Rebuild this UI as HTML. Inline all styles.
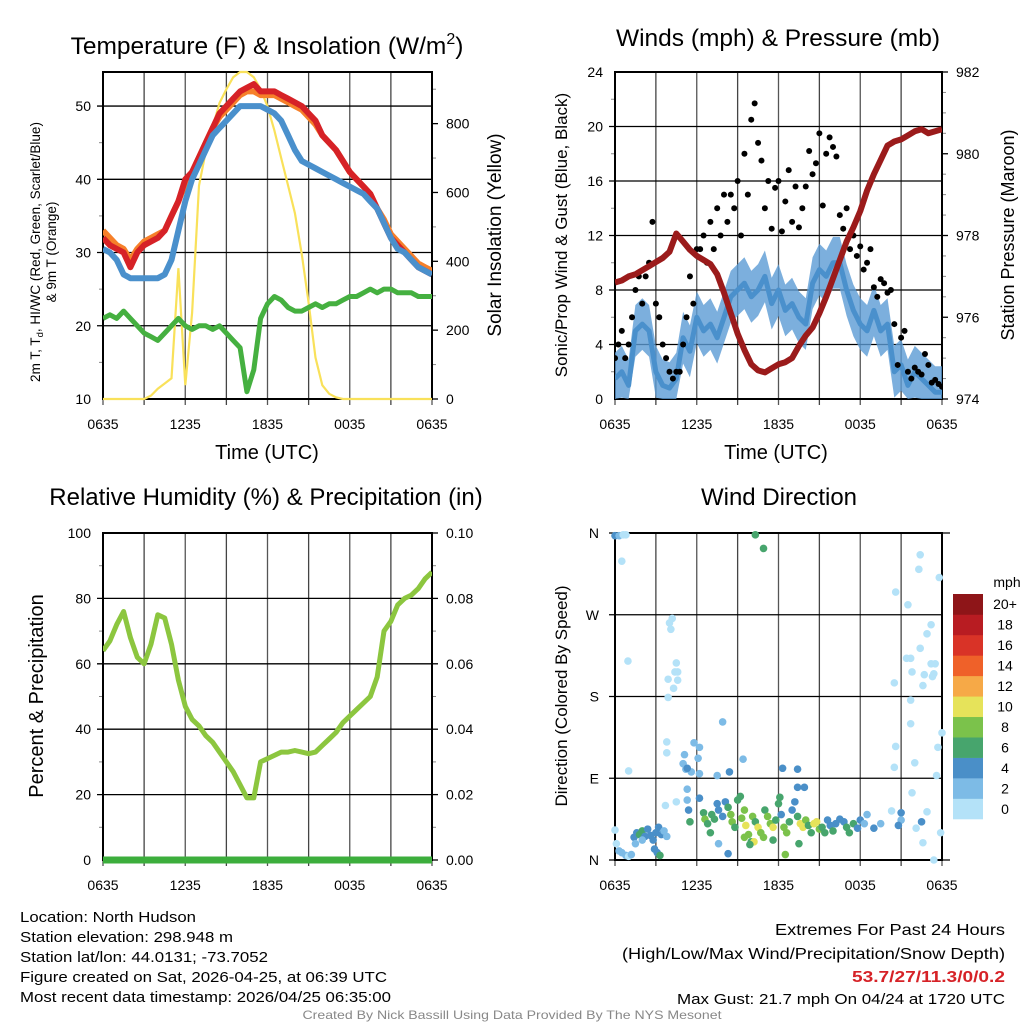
<!DOCTYPE html>
<html><head><meta charset="utf-8">
<style>
html,body{margin:0;padding:0;background:#fff;}
svg{display:block;font-family:"Liberation Sans",Arial,sans-serif;}
</style></head>
<body>
<svg id="fig" width="1024" height="1024" viewBox="0 0 1024 1024" xmlns="http://www.w3.org/2000/svg"></svg>
<script>
// ---------- DATA (half-hour samples from 0635 to 0635 next day) ----------
const timeLabels = ["0635","1235","1835","0035","0635"];
const tempRed = [32,31,30.5,30,28,30,31,31.5,32,33,35,37,40,41,43,45,47,49,50,51,52,52.5,53,52,52,52,51.5,51,50.5,50,49,48,46,45,44,42.5,41,40,39,38,36,34,32,31,30,29,28,27.5,27];
const tempOrange = [33,32,31,30.5,29,30.5,31.5,32,32.5,33,35,37,39.5,41,43,45,47,48.5,49.5,50.5,51.5,52,52,51.5,51.5,51.5,51,50.5,50,49.5,48.5,47.5,46,45,44,42.5,41,40,39,38,36,34.5,32.5,31.5,30.5,29.5,28.5,28,27.5];
const tempBlue = [30.5,30,29,27,26.5,26.5,26.5,26.5,26.5,27,29,33,37,40,42,44,46,47,48,49,50,50,50,50,49.5,49,48,46,44,42.5,42,41.5,41,40.5,40,39.5,39,38.5,38,37,36,34,32,30.5,30,29,28,27.5,27];
const dewGreen = [21,21.5,21,22,21,20,19,18.5,18,19,20,21,20,19.5,20,20,19.5,20,19,18,17,11,14,21,23,24,23.5,22.5,22,22,22.5,23,22.5,23,23,23.5,24,24,24.5,25,24.5,25,25,24.5,24.5,24.5,24,24,24];
const solar = [0,0,0,0,0,0,0,10,30,45,60,380,40,250,620,720,790,860,900,935,950,950,935,900,850,780,700,620,540,420,280,120,40,15,5,0,0,0,0,0,0,0,0,0,0,0,0,0,0];
const windSonic = [1.5,2,1,5,5.5,5,2,1,0.8,1.5,4.5,3.5,6,5,5.5,4.5,6,7.5,8,8.5,7.5,8,9,7,8,6.5,7,6,5.5,8.5,9.5,9,10,10,8,6.5,5.5,5,6.5,5,5.5,2,2.5,1,2,1.5,1,0.5,0.5];
const gusts = [3,4,5,3,4,6,8,9,7, 9,10,13,7,6,4,3,2, 1.5,2,2,4,6,9,7,11, 11,12,10,13,11,14,12,15, 13,15,14,16,12,18,15,20.5, 21.7,18.8,17.5,14,16,12.5,15.5,16, 12.3,14.5,16.8,13,15.6,12.6,14,15.6, 18.2,16.5,17.3,19.5,14.2,18,19.2,18.5, 17.8,13.5,12.5,14,11,12,10.5,11.2, 9.5,10,11,8.2,7.5,8.8,8.5,7.8, 8,5.5,2.5,4.5,5,2,1.5,2.3, 2,1.8,3.3,2.5,1.2,1.4,1.1,0.9];
const pressure = [976.85,976.9,977.0,977.05,977.15,977.25,977.35,977.45,977.6,978.05,977.85,977.65,977.5,977.4,977.3,977.05,976.6,976.1,975.6,975.2,974.85,974.7,974.65,974.75,974.85,974.9,975.0,975.3,975.55,975.75,976.1,976.5,976.95,977.4,977.85,978.2,978.6,979.1,979.5,979.85,980.2,980.3,980.35,980.45,980.55,980.6,980.5,980.55,980.6];
const rh = [64,67,72,76,68,62,60,66,75,74,66,55,47,43,41,38,36,33,30,27,23,19,19,30,31,32,33,33,33.5,33,32.5,33,35,37,39,42,44,46,48,50,56,70,73,78,80,81,83,86,88];
const precip = [0,0,0,0,0,0,0,0,0,0,0,0,0,0,0,0,0,0,0,0,0,0,0,0,0,0,0,0,0,0,0,0,0,0,0,0,0,0,0,0,0,0,0,0,0,0,0,0,0];
// wind direction scatter: hours since 0635, direction (deg), speed (mph)
const dirHour = [0,0.3,0.6,0.8,0.5,0.95,1.0,0.0, 0.1,0.3,0.5,0.8,1.0,1.2,1.4,1.6,1.8,2.0,2.2,2.4,2.6,2.8,3.0,3.2,3.4,3.6,3.8,2.9,3.1,3.3,2.0,1.5,
 4.2,4.0,4.1,4.5,4.4,4.6,3.9,4.6,4.3,3.9,3.8,3.8,3.7,4.5,
 5.8,6.2,5.1,6.1,5.0,5.2,5.6,5.3,6.2,5.3,5.3,5.4,6.2,5.5,
 6.5,6.6,6.8,7.0,7.1,7.3,7.5,7.6,7.9,8.1,8.3,8.5,8.6,8.8,9.0,9.2,9.3,9.5,9.6,9.8,10.0,10.1,10.3,10.5,10.7,10.9,11.0,11.2,11.4,11.6,11.8,12.0,12.2,12.4,12.6,12.8,13.0,13.2,13.4,13.6,13.8,14.0,14.2,14.4,14.6,14.8,15.0,15.2,15.4,15.6,15.8,16.0,16.2,16.5,16.8,17.0,17.2,17.5,17.8,18.0,18.3,18.5,
 7.6,8.3,9.5,10.2,9.9,11.6,13.5,12.5,10.3,10.9,7.9,9.4,8.4,7.5,12.3,13.4,13.4,13.9,12.1,
 22.4,22.3,23.8,20.6,21.5,23.2,22.9,22.4,21.4,21.7,23.2,23.5,21.8,23.3,23.4,22.7,22.6,20.5,21.7,21.7,24.0,20.6,23.7,22.0,20.5,23.6,21.8,22.9,22.6,23.4,23.9,22.1,22.5,21.0,21.0,20.3,19.5,19.0,20.8];
const dirDeg = [357,357,358,358,329,219,98,33, 18,10,8,5,4,6,25,30,28,32,26,34,27,22,30,36,28,32,26,12,8,5,22,18,
 266,261,254,217,207,207,199,198,189,179,130,118,60,64,
 129,124,116,112,106,100,97,78,68,66,101,55,95,42,
 52,45,40,30,50,45,62,55,48,64,58,50,42,36,66,70,46,55,38,28,20,48,42,36,30,25,55,48,40,36,44,62,50,36,30,42,55,64,48,40,36,44,38,30,40,42,34,36,30,44,38,32,40,45,42,36,30,40,35,44,40,50,
 18,7,25,20,17,22,18,6,358,343,152,111,97,93,101,100,80,80,69,
 336,320,311,295,281,259,249,233,222,222,216,216,207,202,205,204,192,195,176,150,140,125,124,107,102,93,74,53,19,0,30,35,42,52,44,54,40,35,38];
const dirSpd = [4,3,1,1,1,1,1,1, 1,3,2,2,1,2,4,4,6,6,4,4,4,4,5,5,4,2,2,4,4,6,3,3,
 1,1,1,1,1,1,1,1,1,1,1,1,1,1,
 3,3,3,3,3,3,3,3,4,3,4,4,3,6,
 7,8,6,6,7,6,4,4,5,5,6,8,8,6,7,6,9,8,10,8,6,8,7,10,8,9,7,9,9,10,7,7,5,8,8,7,5,4,6,10,10,9,7,7,10,10,8,6,6,5,5,6,4,4,4,6,6,6,4,4,2,2,
 3,4,9,10,7,6,7,8,7,7,2,2,4,2,4,4,4,4,6,
 1,1,1,1,1,1,1,1,1,1,1,1,1,1,1,1,1,1,1,1,1,1,1,1,1,1,1,1,1,1,1,1,4,4,2,1,3,4,4];
const speedBins = ["0","2","4","6","8","10","12","14","16","18","20+"];
const speedColors = ["#b4e2f8","#7dbbe6","#4a8fc8","#47a56d","#7bc24b","#e6e35a","#f6a947","#ef6129","#d93327","#b81c22","#8e1518"];

// ---------- helpers ----------
const NS="http://www.w3.org/2000/svg";
const svg=document.getElementById('fig');
function mk(tag, attrs, parent){
  const e=document.createElementNS(NS,tag);
  for(const k in attrs) e.setAttribute(k,attrs[k]);
  (parent||svg).appendChild(e);
  return e;
}
function txt(s,x,y,size,anchor,extra){
  const a=Object.assign({x:x,y:y,'font-size':size,'text-anchor':anchor||'middle',fill:'#000'},extra||{});
  const t=mk('text',a); t.textContent=s; return t;
}
function linear(d0,d1,r0,r1){return v=>r0+(v-d0)*(r1-r0)/(d1-d0);}
function pathFrom(vals,xf,yf){
  let d='';vals.forEach((v,i)=>{d+=(i?'L':'M')+xf(i).toFixed(1)+' '+yf(v).toFixed(1);});return d;
}
function frame(x0,y0,x1,y1,name,hLines,yf,leftTicks,rightTicks,rf,minorL,minorR){
  const g=mk('g',{});
  
  
  for(let k=0;k<=8;k++){
    const x=x0+k*(x1-x0)/8;
    const l=mk('line',{x1:x,y1:y0,x2:x,y2:y1+6,stroke:k%2? '#444':'#555','stroke-width':1.3},g);
    
    
  }
  hLines.forEach(v=>{const y=yf(v);
    const l=mk('line',{x1:x0-6,y1:y,x2:x1,y2:y,stroke:'#000','stroke-width':1.3},g);
    
    });
  (minorL||[]).forEach(v=>{const y=yf(v);mk('line',{x1:x0-4,y1:y,x2:x0,y2:y,stroke:'#888','stroke-width':1},g);});
  (rightTicks||[]).forEach(v=>{const y=rf(v);mk('line',{x1:x1,y1:y,x2:x1+6,y2:y,stroke:'#000','stroke-width':1.3},g);});
  (minorR||[]).forEach(v=>{const y=rf(v);mk('line',{x1:x1,y1:y,x2:x1+4,y2:y,stroke:'#888','stroke-width':1},g);});
  const r=mk('rect',{x:x0,y:y0,width:x1-x0,height:y1-y0,fill:'none',stroke:'#000','stroke-width':2},g);
  
  
  timeLabels.forEach((s,i)=>{const t=txt(s,x0+i*(x1-x0)/4,y1+30,14);
    
    });
  return g;
}
function clip(id,x0,y0,x1,y1){const c=mk('clipPath',{id:id});mk('rect',{x:x0,y:y0,width:x1-x0,height:y1-y0},c);}

// ================= PANEL 1 =================
(function(){
 const x0=103,x1=432,y0=72,y1=399;
 const yf=linear(10,54.65,y1,y0), rf=linear(0,950,y1,y0);
 const xf=i=>x0+i*(x1-x0)/(tempRed.length-1);
 clip('c1',x0,y0-4,x1,y1+4);
 frame(x0,y0,x1,y1,'temperature',[20,30,40,50],yf,null,[0,200,400,600,800],rf,[15,25,35,45],[100,300,500,700,900]);
 [10,20,30,40,50].forEach(v=>{const t=txt(String(v),x0-12,yf(v)+5,14,'end');
   
   });
 [0,200,400,600,800].forEach(v=>{const t=txt(String(v),x1+14,rf(v)+5,14,'start');
   
   });
 const g=mk('g',{'clip-path':'url(#c1)'});
 const s=mk('path',{d:pathFrom(solar,xf,rf),fill:'none',stroke:'#f9e15a','stroke-width':2.2},g);
 
 
 const dg=mk('path',{d:pathFrom(dewGreen,xf,yf),fill:'none',stroke:'#45b040','stroke-width':5,'stroke-linejoin':'round'},g);
 
 
 const o=mk('path',{d:pathFrom(tempOrange,xf,yf),fill:'none',stroke:'#f6802a','stroke-width':6,'stroke-linejoin':'round'},g);
 
 
 const rd=mk('path',{d:pathFrom(tempRed,xf,yf),fill:'none',stroke:'#d62227','stroke-width':6,'stroke-linejoin':'round'},g);
 
 
 const b=mk('path',{d:pathFrom(tempBlue,xf,yf),fill:'none',stroke:'#4a90cc','stroke-width':6,'stroke-linejoin':'round'},g);
 
 
 const t1=mk('text',{x:267,y:54,'font-size':24.5,'text-anchor':'middle'});
 t1.innerHTML='Temperature (F) &amp; Insolation (W/m<tspan font-size="16" dy="-10">2</tspan><tspan dy="10">)</tspan>';
 
 
 const xt=txt('Time (UTC)',267,459,20);
 
 
 const yl=mk('text',{x:0,y:0,'font-size':13.5,'text-anchor':'middle',transform:'translate(40,252) rotate(-90)'});
 yl.innerHTML='2m T, T<tspan font-size="9.5" dy="3">d</tspan><tspan dy="-3">, HI/WC (Red, Green, Scarlet/Blue)</tspan>';
 
 
 const yl2=txt('& 9m T (Orange)',0,0,13.5,'middle',{transform:'translate(56,252) rotate(-90)'});
 
 
 const yr=txt('Solar Insolation (Yellow)',0,0,19,'middle',{transform:'translate(501,235) rotate(-90)'});
 
 
})();

// ================= PANEL 2 =================
(function(){
 const x0=615,x1=942,y0=72,y1=399;
 const yf=linear(0,24,y1,y0), rf=linear(974,982,y1,y0);
 const xf=i=>x0+i*(x1-x0)/(windSonic.length-1);
 const gx=i=>x0+i*(x1-x0)/(gusts.length-1);
 clip('c2',x0,y0-4,x1,y1+4);
 frame(x0,y0,x1,y1,'winds',[4,8,12,16,20],yf,null,[974,976,978,980,982],rf,[2,6,10,14,18,22],[974.5,975,975.5,976.5,977,977.5,978.5,979,979.5,980.5,981,981.5]);
 [0,4,8,12,16,20,24].forEach(v=>{const t=txt(String(v),x0-12,yf(v)+5,14,'end');
   
   });
 [974,976,978,980,982].forEach(v=>{const t=txt(String(v),x1+14,rf(v)+5,14,'start');
   
   });
 const g=mk('g',{'clip-path':'url(#c2)'});
 let up='',dn='';
 windSonic.forEach((v,i)=>{up+=(i?'L':'M')+xf(i).toFixed(1)+' '+yf(v+1.9).toFixed(1);});
 for(let i=windSonic.length-1;i>=0;i--){dn+='L'+xf(i).toFixed(1)+' '+yf(Math.max(windSonic[i]-1.9,0)).toFixed(1);}
 const band=mk('path',{d:up+dn+'Z',fill:'#5b9bd5','fill-opacity':0.8},g);
 
 
 const w=mk('path',{d:pathFrom(windSonic,xf,yf),fill:'none',stroke:'#4a90cc','stroke-width':5,'stroke-linejoin':'round'},g);
 
 
 gusts.forEach((v,i)=>{
   const c=mk('circle',{cx:gx(i),cy:yf(v),r:3,fill:'#000'},g);
   
   
 });
 const p=mk('path',{d:pathFrom(pressure,xf,rf),fill:'none',stroke:'#9b1b1b','stroke-width':6,'stroke-linejoin':'round'},g);
 
 
 const t=txt('Winds (mph) & Pressure (mb)',778,46,24.5);
 
 
 const xt=txt('Time (UTC)',776,459,20);
 
 
 const yl=txt('Sonic/Prop Wind & Gust (Blue, Black)',0,0,17,'middle',{transform:'translate(567,235) rotate(-90)'});
 
 
 const yr=txt('Station Pressure (Maroon)',0,0,18,'middle',{transform:'translate(1014,235) rotate(-90)'});
 
 
})();

// ================= PANEL 3 =================
(function(){
 const x0=103,x1=432,y0=533,y1=860;
 const yf=linear(0,100,y1,y0), rf=linear(0,0.1,y1,y0);
 const xf=i=>x0+i*(x1-x0)/(rh.length-1);
 clip('c3',x0,y0-4,x1,y1+6);
 frame(x0,y0,x1,y1,'humidity',[20,40,60,80],yf,null,[0,0.02,0.04,0.06,0.08,0.1],rf,[10,30,50,70,90],[0.01,0.03,0.05,0.07,0.09]);
 [0,20,40,60,80,100].forEach(v=>{const t=txt(String(v),x0-12,yf(v)+5,14,'end');
   
   });
 [0,0.02,0.04,0.06,0.08,0.1].forEach(v=>{const t=txt(v.toFixed(2),x1+14,rf(v)+5,14,'start');
   
   });
 const g=mk('g',{'clip-path':'url(#c3)'});
 const r=mk('path',{d:pathFrom(rh,xf,yf),fill:'none',stroke:'#8cc63f','stroke-width':5,'stroke-linejoin':'round'},g);
 
 
 const pr=mk('path',{d:pathFrom(precip,xf,rf),fill:'none',stroke:'#3cae3c','stroke-width':7},g);
 
 
 const t=txt('Relative Humidity (%) & Precipitation (in)',266,505,24);
 
 
 const yl=txt('Percent & Precipitation',0,0,20,'middle',{transform:'translate(43,696) rotate(-90)'});
 
 
})();

// ================= PANEL 4 =================
(function(){
 const x0=615,x1=942,y0=533,y1=860;
 const yf=linear(0,360,y1,y0), xf=linear(0,24,x0,x1);
 clip('c4',x0-6,y0-8,x1+8,y1+6);
 const g0=frame(x0,y0,x1,y1,'direction',[90,180,270],yf,null,[],null,[],[]);
 [0,360].forEach(v=>{mk('line',{x1:x0-6,y1:yf(v),x2:x1+8,y2:yf(v),stroke:'#000','stroke-width':1.3},g0);});
 [[0,'N'],[90,'E'],[180,'S'],[270,'W'],[360,'N']].forEach(a=>{const t=txt(a[1],x0-16,yf(a[0])+5,14,'end');
   
   });
 const g=mk('g',{'clip-path':'url(#c4)'});
 const colorFor=s=>speedColors[Math.min(10,Math.floor(s/2))];
 dirHour.forEach((h,i)=>{
   const c=mk('circle',{cx:xf(h),cy:yf(dirDeg[i]),r:3.8,fill:colorFor(dirSpd[i])},g);
   
   
 });
 const t=txt('Wind Direction',779,505,24);
 
 
 const yl=txt('Direction (Colored By Speed)',0,0,17,'middle',{transform:'translate(567,696) rotate(-90)'});
 
 
 const cb=mk('g',{});
 
 
 const cx0=953,cw=30,ctop=594,cbot=819,bh=(cbot-ctop)/speedColors.length;
 speedColors.forEach((c,i)=>{
   const r=mk('rect',{x:cx0,y:cbot-(i+1)*bh,width:cw,height:bh+0.3,fill:c},cb);
   
   
   const l=txt(speedBins[i],1005,cbot-i*bh-bh/2+5,14,'middle');
   
   
 });
 const u=txt('mph',1007,587,14,'middle');
 
 
})();

// ================= FOOTER TEXT =================
(function(){
 const left=[["Location: North Hudson",922,176],["Station elevation: 298.948 m",942,213],["Station lat/lon: 44.0131; -73.7052",962,248],["Figure created on Sat, 2026-04-25, at 06:39 UTC",982,367],["Most recent data timestamp: 2026/04/25 06:35:00",1002,371]];
 left.forEach(a=>{const t=txt(a[0],20,a[1],15,'start',{textLength:a[2],lengthAdjust:'spacingAndGlyphs'});
   
   });
 const right=[["Extremes For Past 24 Hours",935,230,16,'#000',''],["(High/Low/Max Wind/Precipitation/Snow Depth)",959,383,16,'#000',''],["53.7/27/11.3/0/0.2",982,153,16,'#d62227','bold'],["Max Gust: 21.7 mph On 04/24 at 1720 UTC",1004,328,15,'#000','']];
 right.forEach(a=>{const t=txt(a[0],1005,a[1],a[3],'end',{textLength:a[2],lengthAdjust:'spacingAndGlyphs',fill:a[4],'font-weight':a[5]||'normal'});
   
   });
 const f=txt('Created By Nick Bassill Using Data Provided By The NYS Mesonet',512,1019,12,'middle',{fill:'#888',textLength:419,lengthAdjust:'spacingAndGlyphs'});
 
 
})();
</script>
</body></html>
